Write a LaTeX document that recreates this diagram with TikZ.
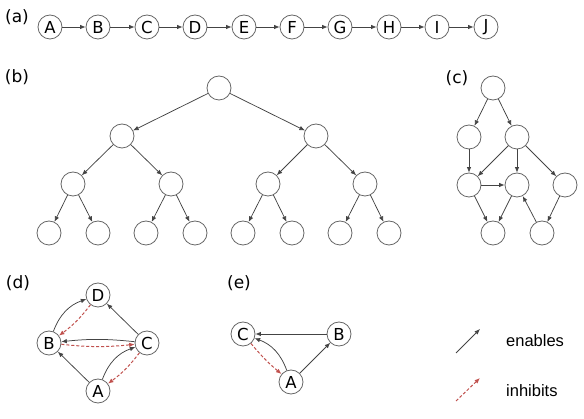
\documentclass[tikz,border=0pt]{standalone}
\usepackage{fontspec}
\setmainfont{DejaVu Sans}
\newfontfamily\legfont{Liberation Sans}
\usetikzlibrary{arrows.meta}
\definecolor{edgec}{HTML}{444444}
\definecolor{circc}{HTML}{666666}
\definecolor{redc}{HTML}{C0504D}
\begin{document}
\begin{tikzpicture}[x=1pt,y=-1pt,
 nd/.style={circle,draw=circc,line width=0.8pt,minimum size=24pt,inner sep=0pt,font=\fontsize{16.5}{16.5}\selectfont},
 en/.style={draw=edgec,line width=0.75pt,-{Latex[length=5.5pt,width=4.5pt]}},
 inh/.style={draw=redc,line width=1pt,dash pattern=on 3pt off 2pt,-{Latex[length=5.5pt,width=4.5pt]}},
 lab/.style={font=\fontsize{17}{17}\selectfont,inner sep=0pt},
 leg/.style={font=\legfont\fontsize{16.5}{16.5}\selectfont,anchor=west,inner sep=0pt}]
\useasboundingbox (0,0) rectangle (584,419);

% (a)
\node[lab] (la) at (17,17) {(a)};
\foreach \n/\x in {A/50,B/98,C/147,D/195,E/244,F/292,G/340,H/389,I/437,J/486}
  \node[nd] (a\n) at (\x,27) {\n};
\foreach \p/\q in {A/B,B/C,C/D,D/E,E/F,F/G,G/H,H/I,I/J}
  \draw[en] (a\p) -- (a\q);

% (b)
\node[lab] (lb) at (17,77) {(b)};
\node[nd] (r) at (219,88) {};
\node[nd] (l1) at (122,136) {};
\node[nd] (l2) at (316,136) {};
\node[nd] (m1) at (73,184) {};
\node[nd] (m2) at (171,184) {};
\node[nd] (m3) at (268,184) {};
\node[nd] (m4) at (365,184) {};
\foreach \i/\x in {1/49,2/98,3/146,4/195,5/243,6/292,7/340,8/389}
  \node[nd] (f\i) at (\x,233) {};
\draw[en] (r) -- (l1); \draw[en] (r) -- (l2);
\draw[en] (l1) -- (m1); \draw[en] (l1) -- (m2);
\draw[en] (l2) -- (m3); \draw[en] (l2) -- (m4);
\draw[en] (m1) -- (f1); \draw[en] (m1) -- (f2);
\draw[en] (m2) -- (f3); \draw[en] (m2) -- (f4);
\draw[en] (m3) -- (f5); \draw[en] (m3) -- (f6);
\draw[en] (m4) -- (f7); \draw[en] (m4) -- (f8);

% (c)
\node[lab] (lc) at (457,78) {(c)};
\node[nd] (c0) at (493,88) {};
\node[nd] (c1) at (469,137) {};
\node[nd] (c2) at (517,137) {};
\node[nd] (c3) at (469,185) {};
\node[nd] (c4) at (517,185) {};
\node[nd] (c5) at (565,185) {};
\node[nd] (c6) at (493,233) {};
\node[nd] (c7) at (542,233) {};
\draw[en] (c0) -- (c1); \draw[en] (c0) -- (c2);
\draw[en] (c1) -- (c3); \draw[en] (c2) -- (c3);
\draw[en] (c2) -- (c4); \draw[en] (c2) -- (c5);
\draw[en] (c3) -- (c4); \draw[en] (c3) -- (c6);
\draw[en] (c4) -- (c6); \draw[en] (c5) -- (c7);
\draw[en] (c7) -- (c4);

% (d)
\node[lab] (ld) at (18,283) {(d)};
\node[nd] (dD) at (98,295) {D};
\node[nd] (dB) at (49,343) {B};
\node[nd] (dC) at (147,343) {C};
\node[nd] (dA) at (98,391) {A};
\draw[en] (dB) to[bend left=25] (dD);
\draw[inh] (dD) to[bend left=8] (dB);
\draw[en] (dC) -- (dD);
\draw[en] (dC) to[bend right=6] (dB);
\draw[inh] (dB) to[bend right=6] (dC);
\draw[en] (dA) -- (dB);
\draw[en] (dA) to[bend left=25] (dC);
\draw[inh] (dC) to[bend left=8] (dA);

% (e)
\node[lab] (le) at (239,283) {(e)};
\node[nd] (eC) at (243,334) {C};
\node[nd] (eB) at (339,334) {B};
\node[nd] (eA) at (291,382) {A};
\draw[en] (eB) -- (eC);
\draw[en] (eA) -- (eB);
\draw[en] (eA) to[bend right=25] (eC);
\draw[inh] (eC) to[bend right=5] (eA);

% legend
\coordinate (g1s) at (456,353);
\coordinate (g1e) at (480,329);
\coordinate (g2s) at (456,401);
\coordinate (g2e) at (480,378);
\draw[en] (g1s) -- (g1e);
\draw[inh] (g2s) -- (g2e);
\node[leg] (tEn) at (506,341) {enables};
\node[leg] (tIn) at (506,391) {inhibits};
\end{tikzpicture}
\end{document}
